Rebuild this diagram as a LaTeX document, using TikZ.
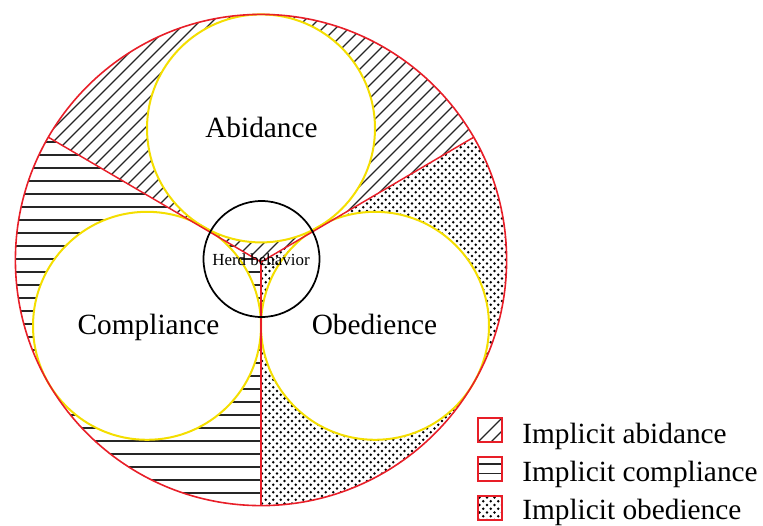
\documentclass[tikz,border=0pt]{standalone}
\usepackage{fontspec}
\setmainfont{Liberation Serif}
\definecolor{ringred}{RGB}{232,30,40}
\definecolor{ringyellow}{RGB}{244,222,0}
\begin{document}
\begin{tikzpicture}[x=0.75pt,y=-0.75pt,
  hatch/.style={draw=black!85,line width=1pt},
  dotfill/.style={fill=black},
  ring/.style={draw=ringyellow,fill=white,line width=1.5pt},
  divider/.style={draw=ringred,line width=1.1pt},
  outer/.style={draw=ringred,line width=1.2pt},
  herd/.style={draw=black,line width=1.3pt},
  biglabel/.style={font=\fontsize{22}{26}\selectfont,inner sep=0pt,anchor=base},
  smalllabel/.style={font=\fontsize{12.7}{15}\selectfont,inner sep=0pt,anchor=base},
  legendbox/.style={draw=ringred,line width=1.1pt},
  legendtext/.style={font=\fontsize{22}{26}\selectfont,inner sep=0pt,anchor=base west}]
\useasboundingbox (0,0) rectangle (763,525);

% key points (1 unit = 1px, y pointing down)
\coordinate (C)  at (261,260);
\coordinate (J)  at (261,262);
\coordinate (UL) at (48.3,137.2);
\coordinate (UR) at (473.7,137.2);
\coordinate (BT) at (261,505.6);
\coordinate (Ac) at (261,128.4);
\coordinate (Cc) at (147,325.8);
\coordinate (Oc) at (375,325.8);
\def\R{245.6}
\def\r{114}

% abidance sector: diagonal hatching
\begin{scope}
  \clip (C) circle (\R);
  \clip (J) -- (-85,60) -- (-85,-200) -- (607,-200) -- (607,60) -- cycle;
  \foreach \c in {0,13,...,900}
    \draw[hatch] (\c+100,-100) -- (\c-700,700);
\end{scope}

% compliance sector: horizontal hatching
\begin{scope}
  \clip (C) circle (\R);
  \clip (J) -- (261,700) -- (-85,700) -- (-85,60) -- cycle;
  \foreach \k in {-2,...,27}
    \draw[hatch] (0,155+13*\k) -- (300,155+13*\k);
\end{scope}

% obedience sector: staggered dots
\begin{scope}
  \clip (C) circle (\R);
  \clip (J) -- (607,60) -- (607,700) -- (261,700) -- cycle;
  \foreach \j in {0,...,49}
    \foreach \i in {0,...,33} {
      \fill[dotfill] (262+7.5*\i,136+7.5*\j) circle (1.3);
      \fill[dotfill] (265.75+7.5*\i,139.75+7.5*\j) circle (1.3);
    }
\end{scope}

% the three tangent circles
\draw[ring] (Ac) circle (\r);
\draw[ring] (Cc) circle (\r);
\draw[ring] (Oc) circle (\r);

% sector dividers and the outer circle
\draw[divider] (J) -- (UL);
\draw[divider] (J) -- (UR);
\draw[divider] (J) -- (BT);
\draw[outer] (C) circle (\R);

% central circle
\draw[herd] (261.5,259) circle (58);

% labels
\node[biglabel] (abid) at (261.5,137) {Abidance};
\node[biglabel] (comp) at (148.5,334) {Compliance};
\node[biglabel] (obed) at (374.5,334) {Obedience};
\node[smalllabel] (herdtxt) at (261,265) {Herd behavior};

% legend
\coordinate (L1) at (478,418);
\coordinate (L2) at (478,457);
\coordinate (L3) at (478,496);
\begin{scope}
  \clip (L1) rectangle ++(24,24);
  \draw[hatch] (478,442) -- (502,418);
  \draw[hatch] (490,443) -- (503,430);
\end{scope}
\draw[legendbox] (L1) rectangle ++(24,24);
\draw[hatch] (478,464) -- (502,464);
\draw[hatch] (478,473.5) -- (502,473.5);
\draw[legendbox] (L2) rectangle ++(24,24);
\begin{scope}
  \clip (L3) rectangle ++(24,24);
  \foreach \j in {0,...,3}
    \foreach \i in {0,...,3} {
      \fill[dotfill] (479.5+7.5*\i,497.5+7.5*\j) circle (1.3);
      \fill[dotfill] (483.25+7.5*\i,501.25+7.5*\j) circle (1.3);
    }
\end{scope}
\draw[legendbox] (L3) rectangle ++(24,24);

\node[legendtext] (t1) at (522,443) {Implicit abidance};
\node[legendtext] (t2) at (522,481) {Implicit compliance};
\node[legendtext] (t3) at (522,519) {Implicit obedience};
\end{tikzpicture}
\end{document}
